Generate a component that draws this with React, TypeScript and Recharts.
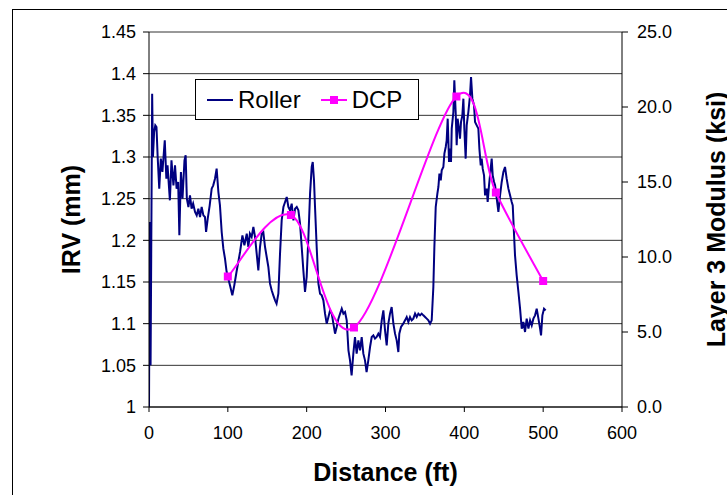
import React from 'react';
import { ComposedChart, Line, XAxis, YAxis, CartesianGrid, Legend, Label } from 'recharts';

const FONT = '"Liberation Sans", Arial, sans-serif';
const ROLLER_COLOR = '#000080';
const DCP_COLOR = '#FF00FF';

const distanceTicks = [0, 100, 200, 300, 400, 500, 600];
const irvTicks = [1, 1.05, 1.1, 1.15, 1.2, 1.25, 1.3, 1.35, 1.4, 1.45];
const modulusTicks = [0, 5, 10, 15, 20, 25];
const seriesOrder = ['Roller', 'DCP'];

// roller IRV trace
const rollerDist = [
  0, 1, 2, 4, 5, 6.5, 8, 9.5, 11, 13, 15, 17, 20, 22, 23.5, 26.5, 28.5, 31, 33, 35,
  37, 38.5, 40.5, 42.5, 45, 46.5, 48, 50, 52, 54, 56, 58.4, 60.5, 62.6, 64.7, 66.8, 69, 71, 72.4, 74.5,
  77, 79.5, 81.5, 83.7, 85.8, 88, 90, 92.2, 94.3, 96.4, 98.5, 102.7, 105.7, 108.2, 111, 115.5, 118.5, 121, 124, 126,
  128, 130.2, 132.4, 134.5, 136.6, 138.7, 140.8, 143, 145, 147.2, 149.3, 151.4, 153.5, 155.6, 157.7, 159.9, 161.8, 164.1, 166.2, 168.3,
  170.5, 172.6, 174.7, 176.8, 178.9, 181, 183.2, 185.3, 187.4, 189.5, 191.6, 193.7, 195.8, 197.9, 200, 202.2, 204.3, 206.4, 207.7, 209.3,
  210.6, 212.7, 214.9, 217, 219.1, 221.2, 223.3, 225.4, 227.6, 229.7, 231.8, 233.9, 236, 238.1, 240.3, 242.4, 244.5, 246.6, 248.7, 250.8,
  253, 255, 257, 259.2, 261.3, 263.4, 265.6, 267.7, 269.8, 271.9, 274, 276, 278.2, 280.4, 282.5, 284.6, 286.7, 288.8, 290.9, 293,
  295.2, 297.3, 299.4, 301.5, 303.6, 305.7, 307.8, 310, 312.1, 314.2, 316.3, 317.5, 319.7, 322.5, 324.8, 326.9, 329, 331.1, 333.2, 335.3,
  337.5, 339.6, 341.7, 343.8, 345.9, 348, 350.2, 352.3, 354.4, 356.5, 358.6, 360.7, 362, 363.7, 365.8, 367.1, 368.4, 370.1, 371.3, 373.4,
  374.7, 376.4, 377.6, 378.9, 380.6, 381.8, 383.1, 384, 386.1, 387.3, 389, 390.3, 391.5, 393.2, 394.5, 395.8, 397.5, 398.8, 400, 401.7,
  403, 405.1, 407.2, 408.5, 410.2, 412.3, 413.6, 415.7, 417.8, 419.1, 420.8, 422, 423.3, 425, 426.3, 428.4, 429.6, 431.3, 433, 434.7,
  436, 437.7, 439, 441.1, 443.2, 445.3, 447.4, 449.5, 451.6, 453.7, 455.9, 458, 460.1, 461.4, 463.1, 464.3, 466.4, 468.6, 470.7, 472.8,
  474.9, 477, 479.1, 481.3, 483.4, 485.5, 487.6, 489.7, 491.8, 494, 496.1, 497.3, 499, 501.1, 503.2,
];
const rollerIrv = [
  1.0, 1.222, 1.05, 1.376, 1.3, 1.33, 1.338, 1.336, 1.3, 1.262, 1.298, 1.282, 1.32, 1.274, 1.29, 1.248, 1.296, 1.266, 1.29, 1.262,
  1.27, 1.206, 1.282, 1.25, 1.296, 1.302, 1.25, 1.24, 1.254, 1.238, 1.244, 1.234, 1.23, 1.238, 1.228, 1.24, 1.23, 1.228, 1.21, 1.226,
  1.242, 1.262, 1.266, 1.274, 1.286, 1.258, 1.242, 1.21, 1.19, 1.178, 1.162, 1.146, 1.134, 1.146, 1.162, 1.186, 1.206, 1.194, 1.208, 1.192,
  1.208, 1.204, 1.216, 1.204, 1.184, 1.164, 1.192, 1.208, 1.21, 1.192, 1.18, 1.168, 1.148, 1.14, 1.134, 1.128, 1.124, 1.136, 1.184, 1.224,
  1.24, 1.246, 1.252, 1.24, 1.236, 1.244, 1.224, 1.238, 1.24, 1.236, 1.22, 1.192, 1.164, 1.138, 1.156, 1.204, 1.256, 1.288, 1.294, 1.272,
  1.24, 1.192, 1.148, 1.136, 1.134, 1.128, 1.112, 1.1, 1.108, 1.116, 1.112, 1.1, 1.088, 1.096, 1.106, 1.112, 1.118, 1.112, 1.114, 1.104,
  1.068, 1.056, 1.038, 1.064, 1.084, 1.064, 1.08, 1.068, 1.084, 1.064, 1.056, 1.042, 1.056, 1.072, 1.084, 1.086, 1.082, 1.084, 1.088, 1.084,
  1.104, 1.116, 1.092, 1.074, 1.1, 1.112, 1.12, 1.1, 1.088, 1.08, 1.066, 1.088, 1.096, 1.1, 1.104, 1.108, 1.102, 1.108, 1.104, 1.106,
  1.112, 1.108, 1.112, 1.11, 1.112, 1.11, 1.108, 1.106, 1.104, 1.1, 1.104, 1.144, 1.192, 1.24, 1.256, 1.264, 1.28, 1.272, 1.284, 1.288,
  1.304, 1.312, 1.32, 1.346, 1.294, 1.31, 1.294, 1.334, 1.354, 1.392, 1.354, 1.314, 1.346, 1.334, 1.322, 1.342, 1.35, 1.37, 1.334, 1.298,
  1.338, 1.354, 1.374, 1.396, 1.37, 1.362, 1.342, 1.338, 1.334, 1.31, 1.29, 1.298, 1.286, 1.278, 1.254, 1.262, 1.246, 1.266, 1.282, 1.298,
  1.278, 1.27, 1.266, 1.25, 1.234, 1.254, 1.27, 1.282, 1.288, 1.274, 1.262, 1.254, 1.246, 1.242, 1.206, 1.182, 1.158, 1.138, 1.118, 1.094,
  1.102, 1.09, 1.106, 1.094, 1.104, 1.098, 1.106, 1.11, 1.118, 1.106, 1.094, 1.086, 1.11, 1.118, 1.116,
];

const dcpDist = [100, 180, 260, 390, 440, 500];
const dcpModulus = [8.7, 12.8, 5.3, 20.7, 14.3, 8.4];

const rollerData = rollerDist.map((d, i) => ({ dist: d, irv: rollerIrv[i] }));
const dcpData = dcpDist.map((d, i) => ({ dist: d, modulus: dcpModulus[i] }));

// Excel-style smoothed line (Catmull-Rom bezier through the points)
function excelSmooth(context: any) {
  let pts: number[][] = [];
  return {
    areaStart() {},
    areaEnd() {},
    lineStart() {
      pts = [];
    },
    lineEnd() {
      if (!pts.length) return;
      context.moveTo(pts[0][0], pts[0][1]);
      for (let i = 0; i < pts.length - 1; i++) {
        const p0 = pts[Math.max(i - 1, 0)];
        const p1 = pts[i];
        const p2 = pts[i + 1];
        const p3 = pts[Math.min(i + 2, pts.length - 1)];
        context.bezierCurveTo(
          p1[0] + (p2[0] - p0[0]) / 6,
          p1[1] + (p2[1] - p0[1]) / 6,
          p2[0] - (p3[0] - p1[0]) / 6,
          p2[1] - (p3[1] - p1[1]) / 6,
          p2[0],
          p2[1],
        );
      }
    },
    point(x: number, y: number) {
      pts.push([+x, +y]);
    },
  };
}

const SquareDot = (props: any) => {
  const { cx, cy } = props;
  if (cx == null || cy == null) return null;
  return <rect x={cx - 4} y={cy - 4} width={8} height={8} fill={DCP_COLOR} />;
};

const tickStyle = { fontSize: 18, fill: '#000', fontFamily: FONT };
const titleStyle = { fontSize: 25, fontWeight: 700, fill: '#000', fontFamily: FONT };

const renderLegend = (props: any) => {
  const items = [...(props.payload ?? [])].sort(
    (a: any, b: any) => seriesOrder.indexOf(a.value) - seriesOrder.indexOf(b.value),
  );
  return (
    <div
      style={{
        boxSizing: 'border-box',
        width: '100%',
        height: '100%',
        border: '1px solid #000',
        background: '#fff',
        display: 'flex',
        alignItems: 'center',
        fontFamily: FONT,
        fontSize: 24,
        color: '#000',
        paddingLeft: 11,
      }}
    >
      {items.map((it: any, i: number) => (
        <div key={i} style={{ display: 'flex', alignItems: 'center', marginRight: 20 }}>
          <svg width={26} height={10}>
            <line x1={0} y1={5} x2={26} y2={5} stroke={it.color} strokeWidth={2} />
            {it.dataKey === 'modulus' && <rect x={9} y={1} width={8} height={8} fill={it.color} />}
          </svg>
          <span style={{ marginLeft: 5 }}>{it.value}</span>
        </div>
      ))}
    </div>
  );
};

export default function App() {
  return (
    <div style={{ position: 'absolute', left: 0, top: 0, width: 727, height: 495, overflow: 'hidden', background: '#fff' }}>
      <div
        style={{
          position: 'absolute',
          left: 12,
          top: 9,
          width: 800,
          height: 600,
          border: '1px solid #000',
          boxSizing: 'border-box',
        }}
      />
      <ComposedChart width={727} height={495} margin={{ top: 32, right: 0, bottom: 0, left: 0 }}>
        <CartesianGrid yAxisId="irv" vertical={false} horizontal stroke="#333" horizontalValues={irvTicks} />
        <XAxis
          type="number"
          dataKey="dist"
          domain={[0, 600]}
          ticks={distanceTicks}
          height={88}
          stroke="#000"
          tickSize={5}
          tickMargin={14}
          tick={tickStyle}
          allowDataOverflow
        >
          <Label
            content={(p: any) => {
              const vb = p.viewBox;
              return (
                <text x={vb.x + vb.width / 2} y={vb.y + 74} textAnchor="middle" style={titleStyle}>
                  Distance (ft)
                </text>
              );
            }}
          />
        </XAxis>
        <YAxis
          yAxisId="irv"
          orientation="left"
          domain={[1, 1.45]}
          ticks={irvTicks}
          width={149}
          stroke="#000"
          tickSize={6}
          tickMargin={7}
          tick={tickStyle}
          allowDataOverflow
        >
          <Label
            content={(p: any) => {
              const vb = p.viewBox;
              const x = vb.x + 80;
              const y = vb.y + vb.height / 2;
              return (
                <text x={x} y={y} transform={`rotate(-90, ${x}, ${y})`} textAnchor="middle" style={titleStyle}>
                  IRV (mm)
                </text>
              );
            }}
          />
        </YAxis>
        <YAxis
          yAxisId="mod"
          orientation="right"
          domain={[0, 25]}
          ticks={modulusTicks}
          width={105}
          stroke="#000"
          tickSize={6}
          tickMargin={9}
          tick={tickStyle}
          tickFormatter={(v: number) => v.toFixed(1)}
          allowDataOverflow
        >
          <Label
            content={(p: any) => {
              const vb = p.viewBox;
              const x = vb.x + 103;
              const y = vb.y + vb.height / 2;
              return (
                <text x={x} y={y} transform={`rotate(-90, ${x}, ${y})`} textAnchor="middle" style={titleStyle}>
                  Layer 3 Modulus (ksi)
                </text>
              );
            }}
          />
        </YAxis>
        <Legend
          layout="horizontal"
          verticalAlign="middle"
          align="center"
          wrapperStyle={{ left: 195, top: 79, width: 224, height: 41 }}
          content={renderLegend}
        />
        <Line
          name="Roller"
          yAxisId="irv"
          data={rollerData}
          dataKey="irv"
          type="linear"
          stroke={ROLLER_COLOR}
          strokeWidth={2}
          dot={false}
          isAnimationActive={false}
        />
        <Line
          name="DCP"
          yAxisId="mod"
          data={dcpData}
          dataKey="modulus"
          type={excelSmooth as any}
          stroke={DCP_COLOR}
          strokeWidth={2}
          dot={<SquareDot />}
          isAnimationActive={false}
        />
      </ComposedChart>
    </div>
  );
}
